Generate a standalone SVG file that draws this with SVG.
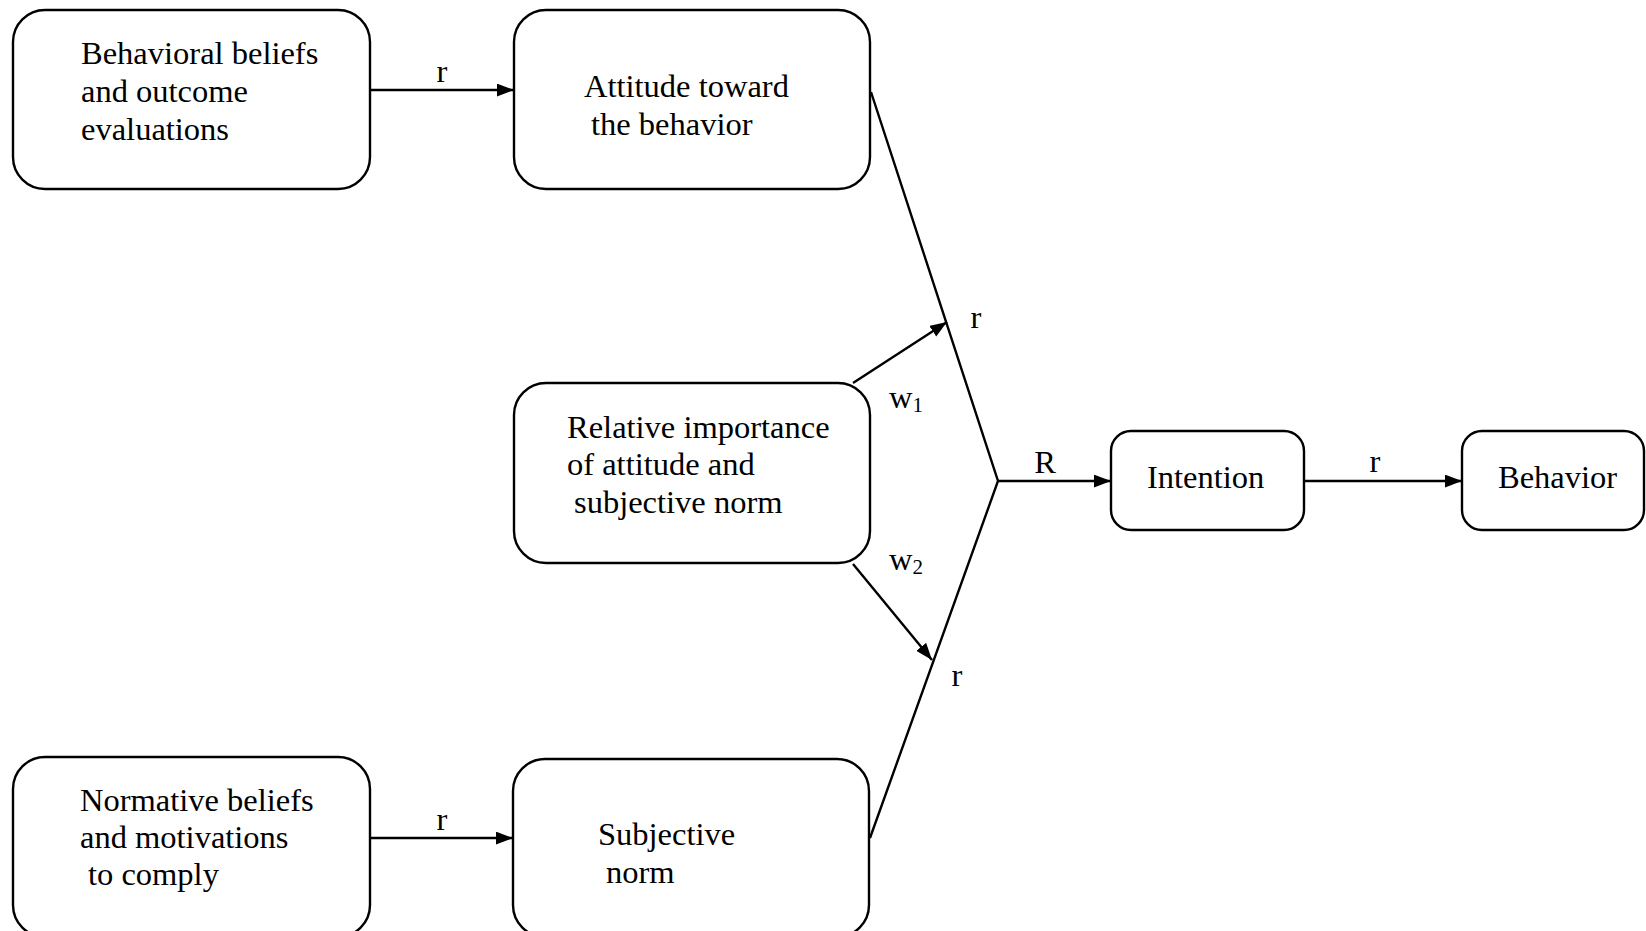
<svg xmlns="http://www.w3.org/2000/svg" width="1646" height="931" viewBox="0 0 1646 931">
  <style>
    .box { fill: #ffffff; stroke: #000000; stroke-width: 2.4; }
    .lbl { font-family: "Liberation Serif", "Times New Roman", serif; font-size: 32.5px; fill: #000000; }
    .edge { fill: none; stroke: #000000; stroke-width: 2.4; }
    .sub { font-size: 21px; }
  </style>
  <defs>
    <marker id="tri" viewBox="0 0 16 12" refX="16" refY="6" markerWidth="17" markerHeight="13" markerUnits="userSpaceOnUse" orient="auto">
      <path d="M0,0 L16,6 L0,12 z" fill="#000000"/>
    </marker>
  </defs>
  <rect width="1646" height="931" fill="#ffffff"/>

  <g id="connectors">
    <line class="edge" x1="370" y1="90" x2="514" y2="90" marker-end="url(#tri)"/>
    <line class="edge" x1="370" y1="838" x2="513" y2="838" marker-end="url(#tri)"/>
    <polyline class="edge" points="871,92 998,481 870,838"/>
    <line class="edge" x1="853" y1="383" x2="947" y2="322" marker-end="url(#tri)"/>
    <line class="edge" x1="853" y1="564" x2="932" y2="660" marker-end="url(#tri)"/>
    <line class="edge" x1="998" y1="481" x2="1111" y2="481" marker-end="url(#tri)"/>
    <line class="edge" x1="1304" y1="481" x2="1462" y2="481" marker-end="url(#tri)"/>
    <text class="lbl" x="442" y="82" text-anchor="middle">r</text>
    <text class="lbl" x="442" y="830" text-anchor="middle">r</text>
    <text class="lbl" x="976" y="328" text-anchor="middle">r</text>
    <text class="lbl" x="957" y="686" text-anchor="middle">r</text>
    <text class="lbl" x="1045" y="473" text-anchor="middle">R</text>
    <text class="lbl" x="1375" y="472" text-anchor="middle">r</text>
    <text class="lbl" x="889" y="408">w<tspan class="sub" dy="4">1</tspan></text>
    <text class="lbl" x="889" y="570">w<tspan class="sub" dy="4">2</tspan></text>
  </g>

  <g id="behavioral-beliefs">
    <rect class="box" x="13" y="10" width="357" height="179" rx="32"/>
    <text class="lbl" x="81" y="64">Behavioral beliefs</text>
    <text class="lbl" x="81" y="102">and outcome</text>
    <text class="lbl" x="81" y="140">evaluations</text>
  </g>

  <g id="attitude">
    <rect class="box" x="514" y="10" width="356" height="179" rx="32"/>
    <text class="lbl" x="584" y="97">Attitude toward</text>
    <text class="lbl" x="591" y="135">the behavior</text>
  </g>

  <g id="relative-importance">
    <rect class="box" x="514" y="383" width="356" height="180" rx="32"/>
    <text class="lbl" x="567" y="438">Relative importance</text>
    <text class="lbl" x="567" y="475">of attitude and</text>
    <text class="lbl" x="574" y="513">subjective norm</text>
  </g>

  <g id="normative-beliefs">
    <rect class="box" x="13" y="757" width="357" height="180" rx="32"/>
    <text class="lbl" x="80" y="811">Normative beliefs</text>
    <text class="lbl" x="80" y="848">and motivations</text>
    <text class="lbl" x="88" y="885">to comply</text>
  </g>

  <g id="subjective-norm">
    <rect class="box" x="513" y="759" width="356" height="178" rx="32"/>
    <text class="lbl" x="598" y="845">Subjective</text>
    <text class="lbl" x="606" y="883">norm</text>
  </g>

  <g id="intention">
    <rect class="box" x="1111" y="431" width="193" height="99" rx="20"/>
    <text class="lbl" x="1147" y="488">Intention</text>
  </g>

  <g id="behavior">
    <rect class="box" x="1462" y="431" width="182" height="99" rx="20"/>
    <text class="lbl" x="1498" y="488">Behavior</text>
  </g>
</svg>
